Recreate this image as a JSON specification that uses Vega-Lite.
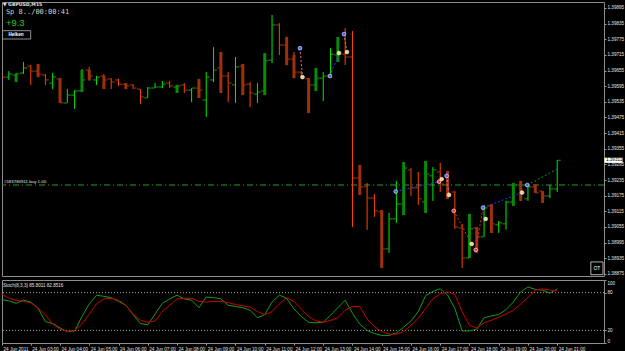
{
  "$schema": "https://vega.github.io/schema/vega-lite/v6.json",
  "background": "#000000",
  "padding": {"left": -1, "top": 1, "right": 0, "bottom": 0},
  "spacing": 2,
  "config": {
    "view": {"stroke": "#8c8c8c", "strokeWidth": 1},
    "axis": {"labelFont": "Liberation Sans", "labelFontSize": 4.6, "labelColor": "#e6e6e6", "tickColor": "#9a9a9a", "tickSize": 2, "domain": false, "grid": false, "labelPadding": 1, "labelOverlap": false}
  },
  "datasets": {
    "bars": [
      {"m":0,"o":1.39657,"h":1.39661,"l":1.39626,"c":1.39630,"k":69,"d":78},
      {"m":15,"o":1.39630,"h":1.39653,"l":1.39619,"c":1.39642,"k":67,"d":71},
      {"m":30,"o":1.39638,"h":1.39646,"l":1.39623,"c":1.39642,"ho":1.39611,"hc":1.39642,"k":63,"d":68},
      {"m":45,"o":1.39646,"h":1.39688,"l":1.39642,"c":1.39665,"k":68,"d":66},
      {"m":60,"o":1.39672,"h":1.39676,"l":1.39600,"c":1.39653,"k":65,"d":64},
      {"m":75,"o":1.39653,"h":1.39680,"l":1.39630,"c":1.39642,"ho":1.39680,"hc":1.39630,"k":55,"d":55},
      {"m":90,"o":1.39638,"h":1.39642,"l":1.39600,"c":1.39619,"k":34,"d":45},
      {"m":105,"o":1.39607,"h":1.39646,"l":1.39584,"c":1.39630,"k":31,"d":30},
      {"m":120,"o":1.39623,"h":1.39626,"l":1.39531,"c":1.39531,"ho":1.39626,"hc":1.39531,"k":24,"d":22},
      {"m":135,"o":1.39531,"h":1.39584,"l":1.39531,"c":1.39561,"k":18,"d":18.6},
      {"m":150,"o":1.39561,"h":1.39580,"l":1.39508,"c":1.39577,"k":19,"d":20},
      {"m":165,"o":1.39577,"h":1.39661,"l":1.39573,"c":1.39619,"ho":1.39573,"hc":1.39657,"k":42,"d":30},
      {"m":180,"o":1.39657,"h":1.39669,"l":1.39615,"c":1.39634,"ho":1.39657,"hc":1.39619,"k":62,"d":46},
      {"m":195,"o":1.39619,"h":1.39634,"l":1.39600,"c":1.39630,"k":76,"d":62},
      {"m":210,"o":1.39634,"h":1.39642,"l":1.39584,"c":1.39619,"ho":1.39634,"hc":1.39584,"k":74,"d":70},
      {"m":225,"o":1.39623,"h":1.39626,"l":1.39584,"c":1.39611,"k":72,"d":71},
      {"m":240,"o":1.39619,"h":1.39623,"l":1.39596,"c":1.39603,"k":66,"d":68},
      {"m":255,"o":1.39603,"h":1.39607,"l":1.39584,"c":1.39596,"ho":1.39607,"hc":1.39584,"k":60,"d":60},
      {"m":270,"o":1.39600,"h":1.39603,"l":1.39584,"c":1.39588,"k":45,"d":46},
      {"m":285,"o":1.39584,"h":1.39584,"l":1.39527,"c":1.39554,"k":31,"d":36},
      {"m":300,"o":1.39550,"h":1.39592,"l":1.39550,"c":1.39588,"k":29,"d":33},
      {"m":315,"o":1.39588,"h":1.39607,"l":1.39588,"c":1.39592,"k":46,"d":35},
      {"m":330,"o":1.39592,"h":1.39615,"l":1.39588,"c":1.39603,"k":63,"d":50},
      {"m":345,"o":1.39607,"h":1.39615,"l":1.39588,"c":1.39596,"k":70,"d":60},
      {"m":360,"o":1.39592,"h":1.39600,"l":1.39569,"c":1.39596,"ho":1.39569,"hc":1.39600,"k":76,"d":70},
      {"m":375,"o":1.39600,"h":1.39607,"l":1.39569,"c":1.39580,"k":70,"d":71},
      {"m":390,"o":1.39580,"h":1.39588,"l":1.39534,"c":1.39588,"k":68,"d":71},
      {"m":405,"o":1.39588,"h":1.39623,"l":1.39550,"c":1.39580,"ho":1.39623,"hc":1.39550,"k":56,"d":66},
      {"m":420,"o":1.39542,"h":1.39649,"l":1.39477,"c":1.39630,"k":73,"d":65},
      {"m":435,"o":1.39619,"h":1.39745,"l":1.39611,"c":1.39657,"k":72,"d":66},
      {"m":450,"o":1.39665,"h":1.39726,"l":1.39569,"c":1.39634,"ho":1.39726,"hc":1.39569,"k":70,"d":66},
      {"m":465,"o":1.39634,"h":1.39649,"l":1.39534,"c":1.39607,"k":60,"d":64},
      {"m":480,"o":1.39600,"h":1.39707,"l":1.39531,"c":1.39669,"k":58,"d":61},
      {"m":495,"o":1.39672,"h":1.39680,"l":1.39561,"c":1.39600,"ho":1.39680,"hc":1.39561,"k":56,"d":59},
      {"m":510,"o":1.39603,"h":1.39611,"l":1.39515,"c":1.39569,"k":52,"d":57},
      {"m":525,"o":1.39565,"h":1.39607,"l":1.39531,"c":1.39573,"k":40,"d":50},
      {"m":540,"o":1.39577,"h":1.39722,"l":1.39561,"c":1.39692,"ho":1.39561,"hc":1.39722,"k":45,"d":45},
      {"m":555,"o":1.39695,"h":1.39868,"l":1.39684,"c":1.39830,"k":65,"d":50},
      {"m":570,"o":1.39830,"h":1.39837,"l":1.39715,"c":1.39753,"k":76,"d":62},
      {"m":585,"o":1.39753,"h":1.39784,"l":1.39676,"c":1.39699,"ho":1.39784,"hc":1.39676,"k":71,"d":72},
      {"m":600,"o":1.39699,"h":1.39726,"l":1.39626,"c":1.39649,"ho":1.39715,"hc":1.39626,"k":54,"d":66},
      {"m":615,"o":1.39649,"h":1.39653,"l":1.39626,"c":1.39630,"k":42,"d":54},
      {"m":630,"o":1.39623,"h":1.39626,"l":1.39492,"c":1.39600,"ho":1.39626,"hc":1.39492,"k":33,"d":42},
      {"m":645,"o":1.39600,"h":1.39665,"l":1.39577,"c":1.39626,"ho":1.39577,"hc":1.39665,"k":32,"d":35},
      {"m":660,"o":1.39626,"h":1.39649,"l":1.39538,"c":1.39634,"k":33,"d":33},
      {"m":675,"o":1.39634,"h":1.39741,"l":1.39634,"c":1.39718,"k":44,"d":36},
      {"m":690,"o":1.39715,"h":1.39784,"l":1.39688,"c":1.39726,"ho":1.39688,"hc":1.39784,"k":56,"d":40},
      {"m":705,"o":1.39718,"h":1.39818,"l":1.39676,"c":1.39707,"k":68,"d":52},
      {"m":720,"o":1.39707,"h":1.39807,"l":1.39055,"c":1.39243,"k":47,"d":58},
      {"m":735,"o":1.39243,"h":1.39293,"l":1.39178,"c":1.39209,"ho":1.39293,"hc":1.39178,"k":30,"d":58},
      {"m":750,"o":1.39209,"h":1.39224,"l":1.39044,"c":1.39166,"k":20,"d":38},
      {"m":765,"o":1.39166,"h":1.39182,"l":1.39094,"c":1.39117,"k":15,"d":26},
      {"m":780,"o":1.39113,"h":1.39120,"l":1.38898,"c":1.38971,"ho":1.39120,"hc":1.38898,"k":12,"d":18},
      {"m":795,"o":1.38971,"h":1.39109,"l":1.38956,"c":1.39086,"k":12,"d":14},
      {"m":810,"o":1.39086,"h":1.39232,"l":1.39071,"c":1.39143,"k":16,"d":14},
      {"m":825,"o":1.39143,"h":1.39304,"l":1.39101,"c":1.39281,"ho":1.39101,"hc":1.39304,"k":25,"d":18},
      {"m":840,"o":1.39274,"h":1.39281,"l":1.39174,"c":1.39205,"k":35,"d":28},
      {"m":855,"o":1.39205,"h":1.39266,"l":1.39140,"c":1.39163,"k":50,"d":39},
      {"m":870,"o":1.39151,"h":1.39308,"l":1.39109,"c":1.39258,"ho":1.39109,"hc":1.39308,"k":75,"d":55},
      {"m":885,"o":1.39251,"h":1.39285,"l":1.39155,"c":1.39274,"k":82,"d":70},
      {"m":900,"o":1.39266,"h":1.39301,"l":1.39189,"c":1.39220,"k":86,"d":78},
      {"m":915,"o":1.39251,"h":1.39270,"l":1.39163,"c":1.39178,"ho":1.39270,"hc":1.39163,"k":76,"d":81},
      {"m":930,"o":1.39189,"h":1.39193,"l":1.39048,"c":1.39055,"k":55,"d":77},
      {"m":945,"o":1.39051,"h":1.39067,"l":1.38898,"c":1.38936,"k":19,"d":50},
      {"m":960,"o":1.38936,"h":1.39105,"l":1.38936,"c":1.39048,"ho":1.38936,"hc":1.39105,"k":19,"d":28},
      {"m":975,"o":1.39051,"h":1.39055,"l":1.38956,"c":1.39017,"ho":1.39055,"hc":1.38956,"k":22,"d":24},
      {"m":990,"o":1.39017,"h":1.39140,"l":1.39017,"c":1.39128,"k":40,"d":32},
      {"m":1005,"o":1.39136,"h":1.39143,"l":1.39032,"c":1.39067,"ho":1.39143,"hc":1.39032,"k":43,"d":36},
      {"m":1020,"o":1.39063,"h":1.39078,"l":1.39032,"c":1.39071,"k":45,"d":41},
      {"m":1035,"o":1.39067,"h":1.39155,"l":1.39044,"c":1.39151,"k":53,"d":46},
      {"m":1050,"o":1.39151,"h":1.39224,"l":1.39136,"c":1.39216,"ho":1.39136,"hc":1.39224,"k":65,"d":52},
      {"m":1065,"o":1.39216,"h":1.39232,"l":1.39155,"c":1.39189,"ho":1.39232,"hc":1.39155,"k":81,"d":62},
      {"m":1080,"o":1.39163,"h":1.39212,"l":1.39155,"c":1.39209,"k":89,"d":72},
      {"m":1095,"o":1.39209,"h":1.39220,"l":1.39186,"c":1.39186,"ho":1.39220,"hc":1.39186,"k":85,"d":84},
      {"m":1110,"o":1.39193,"h":1.39193,"l":1.39147,"c":1.39174,"ho":1.39193,"hc":1.39147,"k":84,"d":86},
      {"m":1125,"o":1.39174,"h":1.39216,"l":1.39166,"c":1.39201,"k":79,"d":84},
      {"m":1140,"o":1.39201,"h":1.39312,"l":1.39189,"c":1.39311,"k":85.8,"d":82.85}
    ],
    "tseg": [
      {"m":612.3,"p":1.39741,"m2":617.5,"p2":1.39630,"kind":"closed"},
      {"m":673.9,"p":1.39634,"m2":692.3,"p2":1.39722,"kind":"buy"},
      {"m":702.6,"p":1.39795,"m2":708.8,"p2":1.39726,"kind":"closed"},
      {"m":808.7,"p":1.39191,"m2":897.5,"p2":1.39229,"kind":"buy"},
      {"m":913.3,"p":1.39251,"m2":918,"p2":1.39178,"kind":"closed"},
      {"m":927.7,"p":1.39117,"m2":964.6,"p2":1.38990,"kind":"sell"},
      {"m":972.8,"p":1.38967,"m2":987.8,"p2":1.39129,"kind":"sell"},
      {"m":987.8,"p":1.39129,"m2":1067.8,"p2":1.39187,"kind":"buy"},
      {"m":1078.6,"p":1.39216,"m2":1139,"p2":1.39276,"kind":"open"}
    ],
    "tpts": [
      {"m":612.3,"p":1.39741,"kind":"blue"},
      {"m":673.9,"p":1.39634,"kind":"blue"},
      {"m":702.6,"p":1.39795,"kind":"blue"},
      {"m":808.7,"p":1.39191,"kind":"blue"},
      {"m":913.3,"p":1.39251,"kind":"blue"},
      {"m":987.8,"p":1.39129,"kind":"blue"},
      {"m":1078.6,"p":1.39216,"kind":"blue"},
      {"m":617.5,"p":1.39630,"kind":"yellow"},
      {"m":692.3,"p":1.39722,"kind":"yellow"},
      {"m":708.8,"p":1.39726,"kind":"yellow"},
      {"m":903,"p":1.39239,"kind":"yellow"},
      {"m":918,"p":1.39178,"kind":"yellow"},
      {"m":964.6,"p":1.38990,"kind":"yellow"},
      {"m":993.3,"p":1.39086,"kind":"yellow"},
      {"m":1067.8,"p":1.39187,"kind":"yellow"},
      {"m":897.5,"p":1.39229,"kind":"red"},
      {"m":927.7,"p":1.39117,"kind":"red"},
      {"m":972.8,"p":1.38967,"kind":"red"}
    ]
  },
  "vconcat": [
    {
      "width": 602,
      "height": 274,
      "layer": [
        {
          "data": {"values": [{"p": 1.39216}]},
          "mark": {"type": "rule", "color": "#22a022", "strokeDash": [6, 3, 1, 3], "strokeWidth": 1},
          "encoding": {
            "y": {"field": "p", "type": "quantitative", "scale": {"domain": [1.38867, 1.39918], "nice": false, "zero": false}, "title": null,
                  "axis": {"orient": "right", "format": ".5f", "tickCount": 100, "values": [1.38875,1.38935,1.38995,1.39055,1.39115,1.39175,1.39235,1.39295,1.39355,1.39415,1.39475,1.39535,1.39595,1.39655,1.39715,1.39775,1.39835,1.39895],
                           "labelFont": "Liberation Sans", "labelFontSize": 4.6, "labelColor": "#e6e6e6", "tickColor": "#9a9a9a", "tickSize": 2, "domain": false, "grid": false, "labelPadding": 1, "labelFlush": false, "labelOverlap": false}}
          }
        },
        {
          "data": {"name": "bars"},
          "mark": {"type": "rule", "strokeWidth": 1, "clip": true},
          "encoding": {
            "x": {"field": "m", "type": "quantitative", "scale": {"domain": [1, 1236], "nice": false, "zero": false}, "axis": null},
            "y": {"field": "l", "type": "quantitative", "scale": {"domain": [1.38867, 1.39918], "nice": false, "zero": false}, "title": null},
            "y2": {"field": "h"},
            "color": {"condition": {"test": "datum.c >= datum.o", "value": "#00ee00"}, "value": "#ff4500"}
          }
        },
        {
          "data": {"name": "bars"},
          "mark": {"type": "tick", "orient": "horizontal", "size": 3, "thickness": 1, "xOffset": -2, "clip": true},
          "encoding": {
            "x": {"field": "m", "type": "quantitative", "scale": {"domain": [1, 1236], "nice": false, "zero": false}, "axis": null},
            "y": {"field": "o", "type": "quantitative", "scale": {"domain": [1.38867, 1.39918], "nice": false, "zero": false}, "title": null},
            "color": {"condition": {"test": "datum.c >= datum.o", "value": "#00ee00"}, "value": "#ff4500"}
          }
        },
        {
          "data": {"name": "bars"},
          "mark": {"type": "tick", "orient": "horizontal", "size": 3, "thickness": 1, "xOffset": 2, "clip": true},
          "encoding": {
            "x": {"field": "m", "type": "quantitative", "scale": {"domain": [1, 1236], "nice": false, "zero": false}, "axis": null},
            "y": {"field": "c", "type": "quantitative", "scale": {"domain": [1.38867, 1.39918], "nice": false, "zero": false}, "title": null},
            "color": {"condition": {"test": "datum.c >= datum.o", "value": "#00ee00"}, "value": "#ff4500"}
          }
        },
        {
          "data": {"name": "bars"},
          "transform": [{"filter": "isValid(datum.ho)"}],
          "mark": {"type": "rule", "strokeWidth": 3, "clip": true},
          "encoding": {
            "x": {"field": "m", "type": "quantitative", "scale": {"domain": [1, 1236], "nice": false, "zero": false}, "axis": null},
            "y": {"field": "ho", "type": "quantitative", "scale": {"domain": [1.38867, 1.39918], "nice": false, "zero": false}, "title": null},
            "y2": {"field": "hc"},
            "color": {"condition": {"test": "datum.hc >= datum.ho", "value": "#0a8a0a"}, "value": "#a0300c"}
          }
        },
        {
          "data": {"name": "tseg"},
          "mark": {"type": "rule", "strokeWidth": 1, "strokeDash": [2, 2]},
          "encoding": {
            "x": {"field": "m", "type": "quantitative", "scale": {"domain": [1, 1236], "nice": false, "zero": false}, "axis": null},
            "x2": {"field": "m2"},
            "y": {"field": "p", "type": "quantitative", "scale": {"domain": [1.38867, 1.39918], "nice": false, "zero": false}, "title": null},
            "y2": {"field": "p2"},
            "color": {"field": "kind", "type": "nominal", "scale": {"domain": ["closed", "buy", "sell", "open"], "range": ["#e0708c", "#2a3cff", "#ff2020", "#1c8c1c"]}, "legend": null}
          }
        },
        {
          "data": {"name": "tpts"},
          "mark": {"type": "point", "filled": true, "shape": "circle", "size": 14, "stroke": "#ffffff", "strokeWidth": 0.6, "opacity": 1},
          "encoding": {
            "x": {"field": "m", "type": "quantitative", "scale": {"domain": [1, 1236], "nice": false, "zero": false}, "axis": null},
            "y": {"field": "p", "type": "quantitative", "scale": {"domain": [1.38867, 1.39918], "nice": false, "zero": false}, "title": null},
            "fill": {"field": "kind", "type": "nominal", "scale": {"domain": ["blue", "yellow", "red"], "range": ["#4060ff", "#f0d080", "#ff3030"]}, "legend": null}
          }
        },
        {
          "data": {"values": [{"label": "▼ GBPUSD,M15"}]},
          "mark": {"type": "text", "align": "left", "baseline": "middle", "font": "DejaVu Sans", "fontSize": 4.6, "fontWeight": "bold", "color": "#e0e0e0"},
          "encoding": {
            "x": {"datum": 3, "type": "quantitative", "scale": {"domain": [1, 1236], "nice": false, "zero": false}, "axis": null},
            "y": {"datum": 1.39907, "type": "quantitative", "scale": {"domain": [1.38867, 1.39918], "nice": false, "zero": false}, "title": null},
            "text": {"field": "label"}
          }
        },
        {
          "data": {"values": [{"label": "Sp 8../00:00:41"}]},
          "mark": {"type": "text", "align": "left", "baseline": "middle", "font": "DejaVu Sans Mono", "fontSize": 7, "color": "#d0d0d0"},
          "encoding": {
            "x": {"datum": 9, "type": "quantitative", "scale": {"domain": [1, 1236], "nice": false, "zero": false}, "axis": null},
            "y": {"datum": 1.39878, "type": "quantitative", "scale": {"domain": [1.38867, 1.39918], "nice": false, "zero": false}, "title": null},
            "text": {"field": "label"}
          }
        },
        {
          "data": {"values": [{"label": "+9.3"}]},
          "mark": {"type": "text", "align": "left", "baseline": "middle", "font": "Liberation Sans", "fontSize": 9.5, "color": "#22cc22"},
          "encoding": {
            "x": {"datum": 9, "type": "quantitative", "scale": {"domain": [1, 1236], "nice": false, "zero": false}, "axis": null},
            "y": {"datum": 1.39836, "type": "quantitative", "scale": {"domain": [1.38867, 1.39918], "nice": false, "zero": false}, "title": null},
            "text": {"field": "label"}
          }
        },
        {
          "data": {"values": [{"label": "Heiken"}]},
          "mark": {"type": "rect", "fill": "#050505", "stroke": "#b0b0b0", "strokeWidth": 0.8},
          "encoding": {
            "x": {"datum": 2, "type": "quantitative", "scale": {"domain": [1, 1236], "nice": false, "zero": false}, "axis": null},
            "x2": {"datum": 59.9},
            "y": {"datum": 1.39808, "type": "quantitative", "scale": {"domain": [1.38867, 1.39918], "nice": false, "zero": false}, "title": null},
            "y2": {"datum": 1.39776}
          }
        },
        {
          "data": {"values": [{"label": "Heiken"}]},
          "mark": {"type": "text", "align": "center", "baseline": "middle", "font": "Liberation Sans", "fontSize": 4.6, "fontWeight": "bold", "color": "#ffffff"},
          "encoding": {
            "x": {"datum": 29.7, "type": "quantitative", "scale": {"domain": [1, 1236], "nice": false, "zero": false}, "axis": null},
            "y": {"datum": 1.39792, "type": "quantitative", "scale": {"domain": [1.38867, 1.39918], "nice": false, "zero": false}, "title": null},
            "text": {"field": "label"}
          }
        },
        {
          "data": {"values": [{"label": "#183784911 buy 1.00"}]},
          "mark": {"type": "text", "align": "left", "baseline": "middle", "font": "Liberation Sans", "fontSize": 4.4, "color": "#e0e0e0"},
          "encoding": {
            "x": {"datum": 5, "type": "quantitative", "scale": {"domain": [1, 1236], "nice": false, "zero": false}, "axis": null},
            "y": {"datum": 1.39228, "type": "quantitative", "scale": {"domain": [1.38867, 1.39918], "nice": false, "zero": false}, "title": null},
            "text": {"field": "label"}
          }
        },
        {
          "data": {"values": [{"label": "OT"}]},
          "mark": {"type": "rect", "fill": "#000000", "stroke": "#e0e0e0", "strokeWidth": 0.8},
          "encoding": {
            "x": {"datum": 1209, "type": "quantitative", "scale": {"domain": [1, 1236], "nice": false, "zero": false}, "axis": null},
            "x2": {"datum": 1234},
            "y": {"datum": 1.38921, "type": "quantitative", "scale": {"domain": [1.38867, 1.39918], "nice": false, "zero": false}, "title": null},
            "y2": {"datum": 1.38872}
          }
        },
        {
          "data": {"values": [{"label": "OT"}]},
          "mark": {"type": "text", "align": "center", "baseline": "middle", "font": "Liberation Sans", "fontSize": 5, "color": "#ffffff"},
          "encoding": {
            "x": {"datum": 1221.5, "type": "quantitative", "scale": {"domain": [1, 1236], "nice": false, "zero": false}, "axis": null},
            "y": {"datum": 1.38896, "type": "quantitative", "scale": {"domain": [1.38867, 1.39918], "nice": false, "zero": false}, "title": null},
            "text": {"field": "label"}
          }
        },
        {
          "data": {"values": [{"label": "1.39311"}]},
          "mark": {"type": "rect", "fill": "#ffffff"},
          "encoding": {
            "x": {"datum": 1237, "type": "quantitative", "scale": {"domain": [1, 1236], "nice": false, "zero": false}, "axis": null},
            "x2": {"datum": 1274},
            "y": {"datum": 1.39321, "type": "quantitative", "scale": {"domain": [1.38867, 1.39918], "nice": false, "zero": false}, "title": null},
            "y2": {"datum": 1.39301}
          }
        },
        {
          "data": {"values": [{"label": "1.39311"}]},
          "mark": {"type": "text", "align": "left", "baseline": "middle", "font": "Liberation Sans", "fontSize": 4.6, "color": "#000000"},
          "encoding": {
            "x": {"datum": 1240, "type": "quantitative", "scale": {"domain": [1, 1236], "nice": false, "zero": false}, "axis": null},
            "y": {"datum": 1.39311, "type": "quantitative", "scale": {"domain": [1.38867, 1.39918], "nice": false, "zero": false}, "title": null},
            "text": {"field": "label"}
          }
        }
      ]
    },
    {
      "width": 602,
      "height": 63,
      "layer": [
        {
          "data": {"values": [{"v": 80}, {"v": 20}]},
          "mark": {"type": "rule", "color": "#a0a0a0", "strokeDash": [1, 2], "strokeWidth": 1},
          "encoding": {
            "y": {"field": "v", "type": "quantitative", "scale": {"domain": [0, 100], "nice": false}, "title": null,
                  "axis": {"orient": "right", "values": [0, 20, 80, 100], "tickCount": 100, "labelFlush": true, "labelFont": "Liberation Sans", "labelFontSize": 4.6, "labelColor": "#e6e6e6", "tickColor": "#9a9a9a", "tickSize": 2, "domain": false, "grid": false, "labelPadding": 1, "labelOverlap": false}}
          }
        },
        {
          "data": {"name": "bars"},
          "mark": {"type": "line", "color": "#1a9a1a", "strokeWidth": 1},
          "encoding": {
            "x": {"field": "m", "type": "quantitative", "scale": {"domain": [1, 1236], "nice": false, "zero": false}, "title": null,
                  "axis": {"orient": "bottom", "tickCount": 100, "values": [1,60,120,180,240,300,360,420,480,540,600,660,720,780,840,900,960,1020,1080,1140], "labelAlign": "left", "labelOffset": 1, "labelFlush": false, "labelOverlap": false,
                           "labelFont": "Liberation Sans", "labelFontSize": 4.6, "labelColor": "#e6e6e6", "tickColor": "#9a9a9a", "tickSize": 2, "domain": false, "grid": false, "labelPadding": 1,
                           "labelExpr": "datum.value < 30 ? '24 Jun 2011' : '24 Jun ' + (floor(datum.value/60)+2 < 10 ? '0' : '') + (floor(datum.value/60)+2) + ':00'"}},
            "y": {"field": "k", "type": "quantitative", "scale": {"domain": [0, 100], "nice": false}, "title": null}
          }
        },
        {
          "data": {"name": "bars"},
          "mark": {"type": "line", "color": "#cc0000", "strokeWidth": 1},
          "encoding": {
            "x": {"field": "m", "type": "quantitative", "scale": {"domain": [1, 1236], "nice": false, "zero": false}, "title": null},
            "y": {"field": "d", "type": "quantitative", "scale": {"domain": [0, 100], "nice": false}, "title": null}
          }
        },
        {
          "data": {"values": [{"label": "Stoch(8,3,3) 85.8011 82.8516"}]},
          "mark": {"type": "text", "align": "left", "baseline": "middle", "font": "Liberation Sans", "fontSize": 4.6, "color": "#e0e0e0"},
          "encoding": {
            "x": {"datum": 3, "type": "quantitative", "scale": {"domain": [1, 1236], "nice": false, "zero": false}, "title": null},
            "y": {"datum": 91, "type": "quantitative", "scale": {"domain": [0, 100], "nice": false}, "title": null},
            "text": {"field": "label"}
          }
        }
      ]
    }
  ]
}
